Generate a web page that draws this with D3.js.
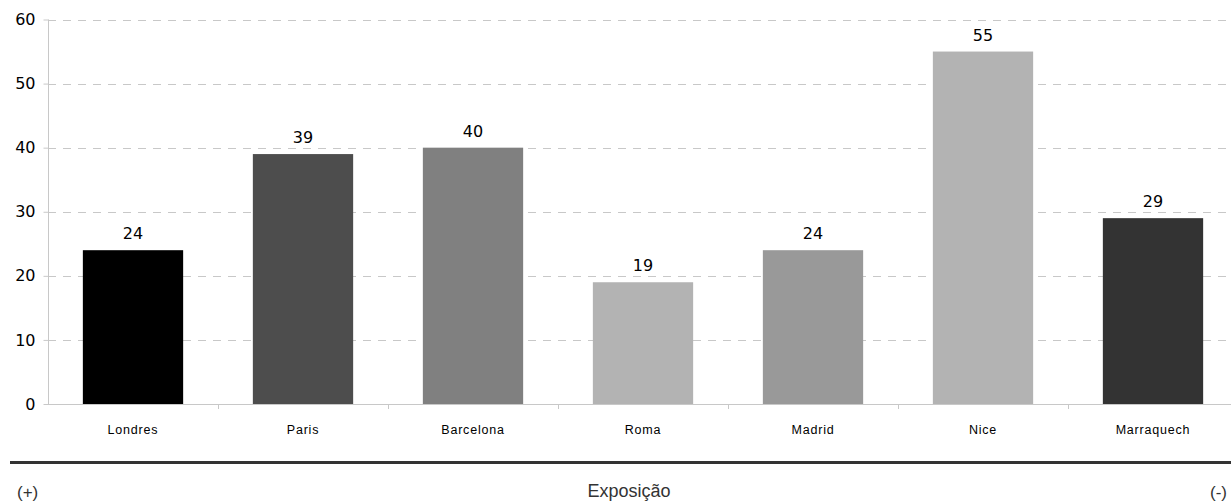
<!DOCTYPE html>
<html><head><meta charset="utf-8">
<script src="https://cdn.jsdelivr.net/npm/d3@7"></script>
<style>body{margin:0;background:#fff}svg{display:block}</style>
</head><body>
<script>
const categories = ["Londres","Paris","Barcelona","Roma","Madrid","Nice","Marraquech"];
const values = [24,39,40,19,24,55,29];
const colors = ["#000000","#4d4d4d","#808080","#b3b3b3","#999999","#b3b3b3","#333333"];
const yTicks = [0,10,20,30,40,50,60];

const W=1231,H=502;
const svg=d3.select("body").append("svg").attr("width",W).attr("height",H);
const x=d3.scaleBand().domain(categories).range([48,1238]).paddingInner(0.41).paddingOuter(0.205);
const y=d3.scaleLinear().domain([0,60]).range([404,19.5]);

// gridlines
svg.append("g").selectAll("line").data(yTicks.slice(1)).join("line")
 .attr("x1",48).attr("x2",1231).attr("y1",d=>Math.round(y(d))+0.5).attr("y2",d=>Math.round(y(d))+0.5)
 .attr("stroke","#c8c8c8").attr("stroke-dasharray","8,7");

// bars
svg.append("g").selectAll("rect").data(categories).join("rect")
 .attr("x",d=>x(d)).attr("width",x.bandwidth())
 .attr("y",(d,i)=>y(values[i])).attr("height",(d,i)=>y(0)-y(values[i]))
 .attr("fill",(d,i)=>colors[i]);

// value labels
svg.append("g").selectAll("text").data(categories).join("text")
 .attr("x",d=>x(d)+x.bandwidth()/2).attr("y",(d,i)=>y(values[i])-11)
 .attr("text-anchor","middle").attr("font-family","DejaVu Sans").attr("font-size",16).attr("fill","#000")
 .text((d,i)=>values[i]);

// y axis
const ya=svg.append("g").attr("transform","translate(48.5,0)")
 .call(d3.axisLeft(y).tickValues(yTicks).tickSize(5).tickPadding(8));
ya.select(".domain").attr("stroke","#c8c8c8").attr("d","M0,"+y(60)+"V"+(y(0)+0.5));
ya.selectAll(".tick line").attr("stroke","#c8c8c8");
ya.selectAll(".tick text").attr("font-family","DejaVu Sans").attr("font-size",16).attr("fill","#000");

// x axis baseline and ticks
const base=svg.append("g");
base.append("line").attr("x1",48).attr("x2",1231).attr("y1",404.5).attr("y2",404.5).attr("stroke","#c8c8c8");
const bounds=categories.map(d=>x(d)-x.step()*x.paddingInner()/2).slice(1);
base.selectAll("line.t").data(bounds).join("line").attr("class","t")
 .attr("x1",d=>Math.round(d)+0.5).attr("x2",d=>Math.round(d)+0.5).attr("y1",404).attr("y2",409).attr("stroke","#c8c8c8");
base.selectAll("text").data(categories).join("text")
 .attr("x",d=>x(d)+x.bandwidth()/2).attr("y",434)
 .attr("text-anchor","middle").attr("font-family","Liberation Sans, Arial").attr("font-size",12.5)
 .attr("letter-spacing","0.8px").attr("fill","#000")
 .text(d=>d);

// thick separator
svg.append("line").attr("x1",10).attr("x2",1231).attr("y1",462.5).attr("y2",462.5).attr("stroke","#333").attr("stroke-width",3);

const f="Liberation Sans, Arial";
svg.append("text").attr("x",17).attr("y",498).attr("font-family",f).attr("font-size",17).attr("fill","#333").text("(+)");
svg.append("text").attr("x",629).attr("y",497).attr("text-anchor","middle").attr("font-family",f).attr("font-size",18).attr("fill","#333").text("Exposição");
svg.append("text").attr("x",1227).attr("y",498).attr("text-anchor","end").attr("font-family",f).attr("font-size",17).attr("fill","#333").text("(-)");
</script>
</body></html>
